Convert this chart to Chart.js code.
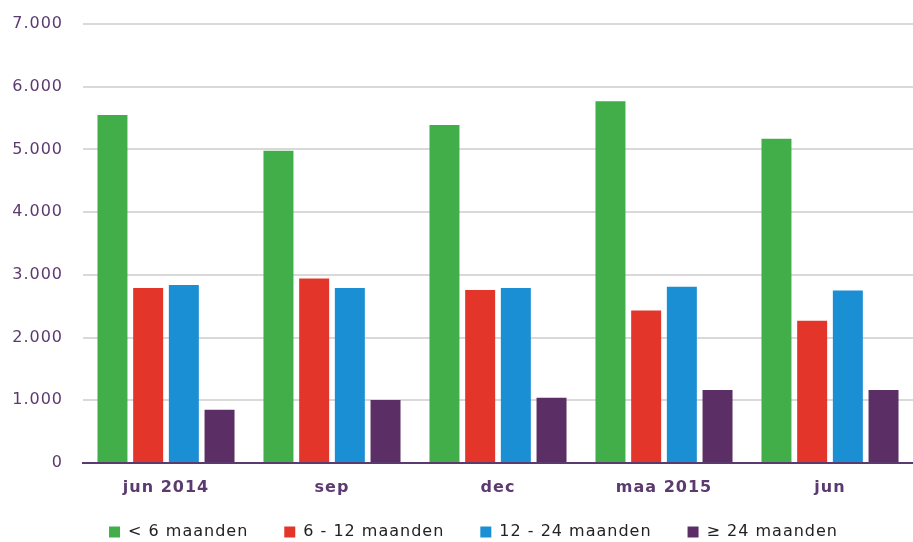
<!DOCTYPE html>
<html>
<head>
<meta charset="utf-8">
<script src="https://cdn.jsdelivr.net/npm/chart.js@4"></script>
<style>
  html, body { margin: 0; padding: 0; background: #fff; }
  #wrap { width: 913px; height: 542px; }
</style>
</head>
<body>
<div id="wrap"><canvas id="myChart"></canvas></div>
<script>
const labels = ['jun 2014', 'sep', 'dec', 'maa 2015', 'jun'];
const minder6 = [5550, 4980, 5390, 5770, 5170];
const van6tot12 = [2790, 2940, 2760, 2430, 2270];
const van12tot24 = [2840, 2790, 2790, 2810, 2750];
const meer24 = [850, 1005, 1040, 1165, 1165];
const yTicks = [0, 1000, 2000, 3000, 4000, 5000, 6000, 7000];

const purple = '#5b3a70';
const fam = "'DejaVu Sans', Verdana, sans-serif";

function dots(v) {
  return v.toString().replace(/\B(?=(\d{3})+(?!\d))/g, '.');
}

// wide lettering like the original + a flatter legend with wide gaps
const tweaks = {
  id: 'tweaks',
  afterInit(chart) {
    const lg = chart.legend;
    const fit = lg.fit;
    lg.fit = function () {
      fit.call(this);
      this.height = 45;
    };
    const draw = lg.draw;
    lg.draw = function () {
      const c = this.ctx;
      const t = this.top, h = this.height;
      this.top = t - 9;
      this.height = h + 9;
      c.save();
      c.translate(17, 0);
      draw.call(this);
      c.restore();
      this.top = t;
      this.height = h;
    };
  },
  beforeUpdate(chart) { chart.ctx.letterSpacing = '1px'; },
  beforeDraw(chart) { chart.ctx.letterSpacing = '1px'; }
};

const ctx = document.getElementById('myChart').getContext('2d');
const myChart = new Chart(ctx, {
  type: 'bar',
  data: {
    labels: labels,
    datasets: [
      { label: '< 6 maanden', data: minder6, backgroundColor: '#42ae4a' },
      { label: '6 - 12 maanden', data: van6tot12, backgroundColor: '#e33529' },
      { label: '12 - 24 maanden', data: van12tot24, backgroundColor: '#1a8fd3' },
      { label: '\u2265 24 maanden', data: meer24, backgroundColor: '#5b2f65' }
    ]
  },
  plugins: [tweaks],
  options: {
    responsive: true,
    maintainAspectRatio: false,
    animation: false,
    layout: { padding: 0 },
    datasets: {
      bar: { barPercentage: 0.84, categoryPercentage: 0.86 }
    },
    plugins: {
      tooltip: { enabled: false },
      legend: {
        position: 'bottom',
        labels: {
          boxWidth: 11,
          boxHeight: 11,
          padding: 36,
          color: '#222',
          font: { family: fam, size: 16 }
        }
      }
    },
    scales: {
      x: {
        afterFit: function (axis) { axis.height = 34; },
        grid: { display: false, drawTicks: false },
        border: { color: purple, width: 2 },
        ticks: {
          color: purple,
          padding: 15,
          maxRotation: 0,
          font: { family: fam, size: 16, weight: 'bold' }
        }
      },
      y: {
        min: 0,
        max: 7000,
        afterBuildTicks: function (axis) {
          axis.ticks = yTicks.map(v => ({ value: v }));
        },
        afterFit: function (axis) {
          axis.width = 83;
          axis.paddingTop = 24;
        },
        grid: { color: '#d9d9d9', lineWidth: 2, drawTicks: false },
        border: { display: false },
        ticks: {
          color: purple,
          padding: 20,
          font: { family: fam, size: 16 },
          callback: function (v) { return dots(v); }
        }
      }
    }
  }
});
</script>
</body>
</html>
